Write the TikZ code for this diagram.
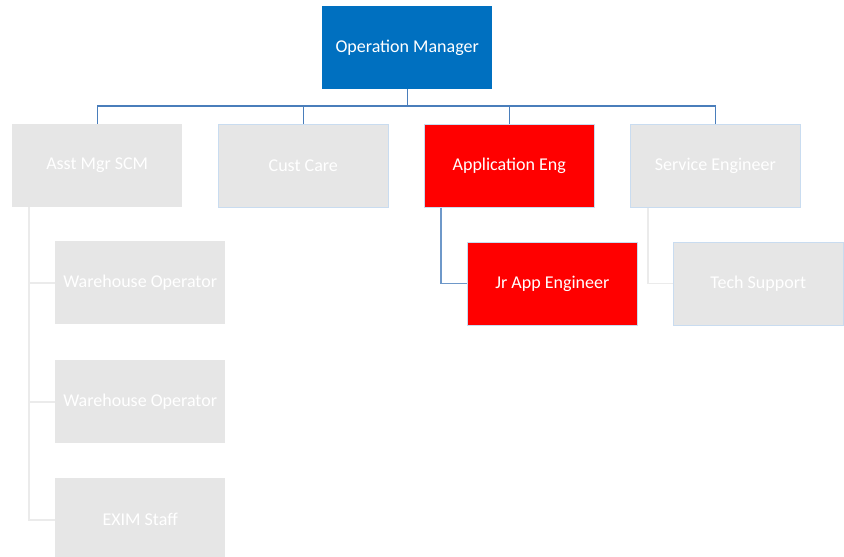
\documentclass[tikz,border=0pt]{standalone}
\usepackage{fontspec}
\setmainfont{Carlito}
\definecolor{mblue}{HTML}{0070C0}
\definecolor{mred}{HTML}{FF0000}
\definecolor{mgray}{HTML}{E6E6E6}
\definecolor{lblue}{HTML}{4A7EBB}
\definecolor{lgray}{HTML}{EBEBEB}
\definecolor{bblue}{HTML}{C9DCF0}
\begin{document}
\begin{tikzpicture}[x=1pt,y=-1pt,
  box/.style={minimum width=170pt,minimum height=83pt,inner sep=0pt,anchor=north west,text=white,font=\fontsize{18}{20}\selectfont},
  bluebox/.style={box,fill=mblue},
  redbox/.style={box,fill=mred,draw=bblue,line width=0.6pt},
  graybox/.style={box,fill=mgray},
  graybord/.style={graybox,draw=bblue,line width=0.6pt},
  bline/.style={draw=lblue,line width=1.1pt},
  gline/.style={draw=lgray,line width=1.6pt}]
\useasboundingbox[fill=white] (0,0) rectangle (844,557);
\node[bluebox] (om) at (322,6) {Operation Manager};
\node[graybox] (am) at (12,124) {Asst Mgr SCM};
\node[graybord] (cc) at (218,124) {Cust Care};
\node[redbox] (ae) at (424,124) {Application Eng};
\node[graybord] (se) at (630,124) {Service Engineer};
\node[graybox] (w1) at (55,241) {Warehouse Operator};
\node[graybox] (w2) at (55,360) {Warehouse Operator};
\node[graybox] (ex) at (55,478) {EXIM Staff};
\node[redbox] (ja) at (467,242) {Jr App Engineer};
\node[graybord] (ts) at (673,242) {Tech Support};
% top connectors
\coordinate (hy) at (0,106);
\draw[bline] (om.south) -- (om.south |- hy);
\draw[bline] (am.north) -- (am.north |- hy) -- (se.north |- hy) -- (se.north);
\draw[bline] (cc.north) -- (cc.north |- hy);
\draw[bline] (ae.north) -- (ae.north |- hy);
% Asst Mgr subtree
\coordinate (ax) at (29,0);
\draw[gline] (ax |- am.south) -- (ax |- ex.west) -- (ex.west);
\draw[gline] (ax |- w1.west) -- (w1.west);
\draw[gline] (ax |- w2.west) -- (w2.west);
% App Eng subtree
\coordinate (jx) at (441,0);
\draw[bline,draw=lblue!80] (jx |- ae.south) -- (jx |- ja.west) -- (ja.west);
% Service subtree
\coordinate (sx) at (648,0);
\draw[gline,line width=1.1pt] (sx |- se.south) -- (sx |- ts.west) -- (ts.west);
\end{tikzpicture}
\end{document}
